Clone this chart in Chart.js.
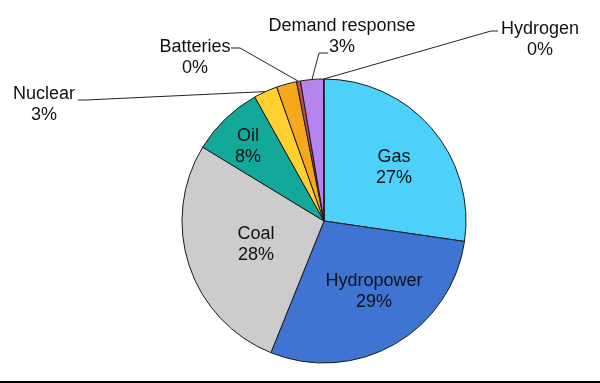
<!DOCTYPE html>
<html>
<head>
<meta charset="utf-8">
<script src="https://cdn.jsdelivr.net/npm/chart.js@4/dist/chart.umd.min.js"></script>
<style>
  body { margin: 0; background: #fff; }
  canvas { display: block; }
</style>
</head>
<body>
<canvas id="myChart" width="600" height="383"></canvas>
<script>
const ctx = document.getElementById("myChart");

// datos (porcentajes)
const categorias = ["Gas", "Hydropower", "Coal", "Oil", "Nuclear", "Other", "Batteries", "Demand response", "Hydrogen"];
const valores = [27.3, 28.8, 27.6, 8.2, 2.7, 2.3, 0.45, 2.6, 0.05];
const colores = ["#4dd0fa", "#3f74d2", "#cccccc", "#12a89a", "#ffd030", "#f5a81c", "#c0504d", "#b584ee", "#8ccf5a"];

// etiquetas dentro del pie: [indice, x, y base]
const etiquetasDentro = [
  [0, 394, 162],
  [1, 374, 286],
  [2, 256, 239],
  [3, 248, 141],
];
// etiquetas fuera con linea guia: [indice, x, y base, inicio linea, quiebre]
const etiquetasFuera = [
  [4, 44, 99, [78, 100], [86, 100]],
  [6, 195, 52, [231, 48], [240, 48]],
  [7, 342, 31, [328, 53], [319, 53]],
  [8, 540, 34, [498, 31], [491, 31]],
];

const total = valores.reduce((a, b) => a + b, 0);
const porcentaje = (i) => Math.round((valores[i] / total) * 100) + "%";

const etiquetasPlugin = {
  id: "etiquetas",
  afterDraw(chart) {
    const c = chart.ctx;
    const arcos = chart.getDatasetMeta(0).data;
    c.save();

    // linea de abajo
    c.fillStyle = "#000";
    c.fillRect(0, 381, 600, 2);

    c.font = "18px 'Liberation Sans', Arial, sans-serif";
    c.fillStyle = "#111";
    c.textAlign = "center";
    c.textBaseline = "alphabetic";

    etiquetasDentro.forEach(([i, x, y]) => {
      c.fillText(categorias[i], x, y);
      c.fillText(porcentaje(i), x, y + 21);
    });

    c.strokeStyle = "#222";
    c.lineWidth = 1;
    etiquetasFuera.forEach(([i, x, y, p0, p1]) => {
      c.fillText(categorias[i], x, y);
      c.fillText(porcentaje(i), x, y + 21);
      const a = arcos[i];
      const mid = (a.startAngle + a.endAngle) / 2;
      const px = a.x + Math.cos(mid) * a.outerRadius;
      const py = a.y + Math.sin(mid) * a.outerRadius;
      c.beginPath();
      c.moveTo(p0[0], p0[1]);
      c.lineTo(p1[0], p1[1]);
      c.lineTo(px, py);
      c.stroke();
    });
    c.restore();
  },
};

new Chart(ctx, {
  type: "pie",
  data: {
    labels: categorias,
    datasets: [
      {
        data: valores,
        backgroundColor: colores,
        borderColor: "#1a1a1a",
        borderWidth: 1,
      },
    ],
  },
  options: {
    responsive: false,
    animation: false,
    layout: {
      padding: { left: 181.5, right: 133.5, top: 78.5, bottom: 19.5 },
    },
    plugins: {
      legend: { display: false },
      tooltip: { enabled: false },
    },
  },
  plugins: [etiquetasPlugin],
});
</script>
</body>
</html>
